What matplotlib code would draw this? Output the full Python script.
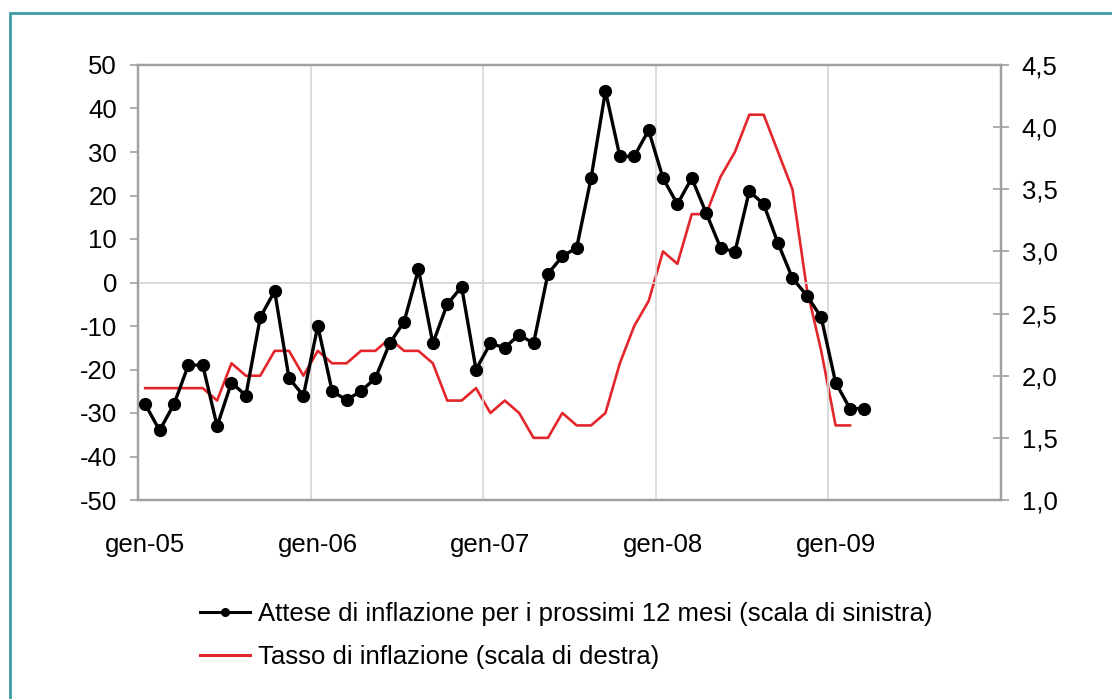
import matplotlib
matplotlib.use("Agg")
import matplotlib.pyplot as plt
from matplotlib.lines import Line2D
from matplotlib.patches import Rectangle
import numpy as np

plt.rcParams['font.family'] = ['Liberation Sans', 'DejaVu Sans']

# Data (monthly, starting January 2005)
expectations = [-28, -34, -28, -19, -19, -33, -23, -26, -8, -2, -22, -26,
                -10, -25, -27, -25, -22, -14, -9, 3, -14, -5, -1, -20,
                -14, -15, -12, -14, 2, 6, 8, 24, 44, 29, 29, 35,
                24, 18, 24, 16, 8, 7, 21, 18, 9, 1, -3, -8,
                -23, -29, -29]
inflation = [1.9, 1.9, 1.9, 1.9, 1.9, 1.8, 2.1, 2.0, 2.0, 2.2, 2.2, 2.0,
             2.2, 2.1, 2.1, 2.2, 2.2, 2.3, 2.2, 2.2, 2.1, 1.8, 1.8, 1.9,
             1.7, 1.8, 1.7, 1.5, 1.5, 1.7, 1.6, 1.6, 1.7, 2.1, 2.4, 2.6,
             3.0, 2.9, 3.3, 3.3, 3.6, 3.8, 4.1, 4.1, 3.8, 3.5, 2.7, 2.2,
             1.6, 1.6]
year_labels = ["gen-05", "gen-06", "gen-07", "gen-08", "gen-09"]
left_ticks = list(range(-50, 51, 10))
right_ticks = [1.0, 1.5, 2.0, 2.5, 3.0, 3.5, 4.0, 4.5]
label_black = "Attese di inflazione per i prossimi 12 mesi (scala di sinistra)"
label_red = "Tasso di inflazione (scala di destra)"

W, H = 1112, 699
fig = plt.figure(figsize=(W / 100, H / 100), dpi=100)
fig.patch.set_facecolor("white")

# teal frame
fig.patches.append(Rectangle((10 / W, -0.2), 1.5, 1 - 13 / H + 0.2,
                             transform=fig.transFigure, fill=False,
                             edgecolor="#3d9ba2", linewidth=2.0, zorder=0))

ax = fig.add_axes([138 / W, 1 - 500 / H, (1001 - 138) / W, (500 - 65) / H])
ax2 = ax.twinx()
ax.set_zorder(ax2.get_zorder() + 1)
ax.patch.set_visible(False)

x_exp = np.arange(len(expectations)) + 0.5
x_inf = np.arange(len(inflation)) + 0.5

spine_col = "#a0a0a0"
grid_col = "#d4d4d4"
fs = 18.5

ax.set_xlim(0, 60)
ax.set_ylim(-50, 50)
ax2.set_ylim(1.0, 4.5)

for xv in [12, 24, 36, 48]:
    ax.axvline(xv, color=grid_col, lw=1.2, zorder=0)
ax.axhline(0, color=grid_col, lw=1.2, zorder=0)

ax2.plot(x_inf, inflation, color="#e3262b", lw=1.9, zorder=2)
ax.plot(x_exp, expectations, color="black", lw=2.4, marker="o",
        markersize=8.5, zorder=3)

for a in (ax, ax2):
    for s in a.spines.values():
        s.set_color(spine_col)
        s.set_linewidth(1.6)

ax.set_yticks(left_ticks)
ax.set_yticklabels([str(v) for v in left_ticks])
ax.tick_params(axis="y", direction="out", length=6, width=1.2,
               color=spine_col, labelsize=fs, pad=9)
ax.set_xticks([0.5 + 12 * i for i in range(len(year_labels))])
ax.set_xticklabels(year_labels)
ax.tick_params(axis="x", length=0, labelsize=fs, pad=24)

ax2.set_yticks(right_ticks)
ax2.set_yticklabels([f"{v:.1f}".replace(".", ",") for v in right_ticks])
ax2.tick_params(axis="y", direction="inout", length=12, width=1.2,
                color=spine_col, labelsize=fs, pad=9)

handles = [Line2D([0], [0], color="black", lw=2.2, marker="o", markersize=5.5),
           Line2D([0], [0], color="#e3262b", lw=2.2)]
fig.legend(handles, [label_black, label_red], loc="upper left",
           bbox_to_anchor=(200 / W, 1 - 602 / H), frameon=False,
           fontsize=fs, handlelength=1.95, handletextpad=0.3,
           labelspacing=0.75, borderaxespad=0, borderpad=0)

fig.savefig("out.png", dpi=100, facecolor="white")
